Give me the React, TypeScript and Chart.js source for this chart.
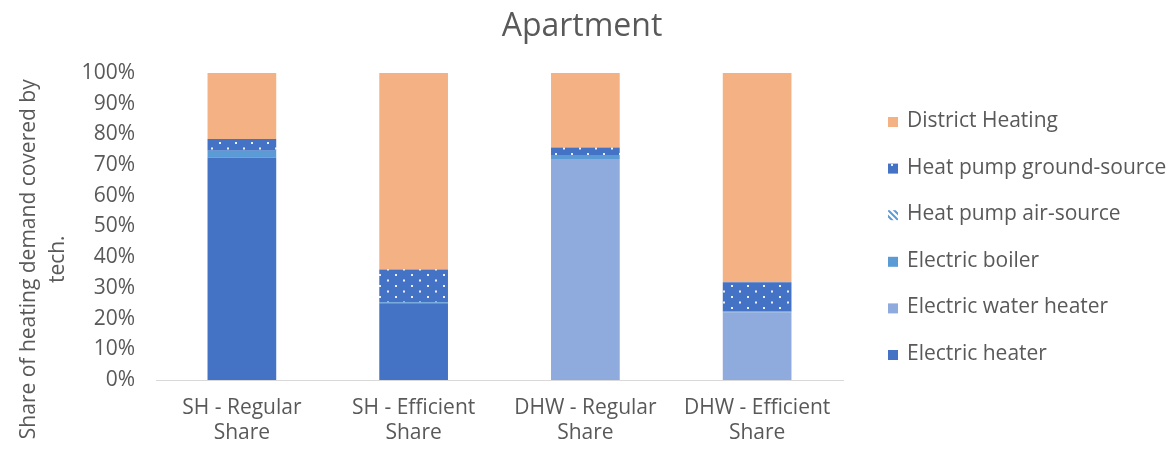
import React, { useEffect, useRef } from "react";
import { Chart, registerables } from "chart.js";

Chart.register(...registerables);

const categories: string[][] = [
  ["SH - Regular", "Share"],
  ["SH - Efficient", "Share"],
  ["DHW - Regular", "Share"],
  ["DHW - Efficient", "Share"],
];

const electricHeater = [72.4, 25.0, 0, 0];
const electricWaterHeater = [0, 0, 72.0, 22.0];
const electricBoiler = [2.3, 0.3, 1.3, 0.3];
const heatPumpAir = [0, 0, 0, 0];
const heatPumpGround = [3.8, 10.7, 2.4, 9.5];
const districtHeating = [21.5, 64.0, 24.3, 68.2];

const yTicks = [0, 10, 20, 30, 40, 50, 60, 70, 80, 90, 100];

const FONT = "'Open Sans', sans-serif";
const GREY = "#595959";

function dotPattern(): CanvasPattern | string {
  const c = document.createElement("canvas");
  c.width = 16;
  c.height = 11;
  const ctx = c.getContext("2d");
  if (!ctx) return "#4472C4";
  ctx.fillStyle = "#4472C4";
  ctx.fillRect(0, 0, 16, 11);
  ctx.fillStyle = "rgba(255,255,255,0.9)";
  ctx.fillRect(3, 2, 2, 2);
  ctx.fillRect(11, 7.5, 2, 2);
  const p = ctx.createPattern(c, "repeat");
  return p || "#4472C4";
}

function stripePattern(): CanvasPattern | string {
  const c = document.createElement("canvas");
  c.width = 6;
  c.height = 6;
  const ctx = c.getContext("2d");
  if (!ctx) return "#5B9BD5";
  ctx.fillStyle = "#ffffff";
  ctx.fillRect(0, 0, 6, 6);
  ctx.strokeStyle = "#5B9BD5";
  ctx.lineWidth = 2;
  ctx.beginPath();
  ctx.moveTo(0, 0);
  ctx.lineTo(6, 6);
  ctx.moveTo(-3, 3);
  ctx.lineTo(3, 9);
  ctx.moveTo(3, -3);
  ctx.lineTo(9, 3);
  ctx.stroke();
  const p = ctx.createPattern(c, "repeat");
  return p || "#5B9BD5";
}

const sideLegend = {
  id: "sideLegend",
  afterDraw(chart: any) {
    const ctx = chart.ctx as CanvasRenderingContext2D;
    const items = [...chart.data.datasets].reverse();
    const x0 = 880;
    const y0 = 113;
    const step = 46.6;
    ctx.save();
    ctx.font = `21px ${FONT}`;
    ctx.textBaseline = "middle";
    ctx.textAlign = "left";
    items.forEach((d: any, i: number) => {
      const y = y0 + i * step;
      ctx.fillStyle = d.backgroundColor;
      ctx.fillRect(x0, y - 4, 10, 10);
      ctx.fillStyle = GREY;
      ctx.fillText(d.label, x0 + 19, y);
    });
    ctx.restore();
  },
};

export default function App() {
  const ref = useRef<HTMLCanvasElement | null>(null);

  useEffect(() => {
    if (!ref.current) return;
    const ds = (label: string, data: number[], bg: any) => ({
      label,
      data,
      backgroundColor: bg,
      borderWidth: 0,
      barPercentage: 0.4,
      categoryPercentage: 1.0,
      yAxisID: "y",
    });
    const pad = "            ";
    const chart = new Chart(ref.current, {
      type: "bar",
      data: {
        labels: categories,
        datasets: [
          ds("Electric heater", electricHeater, "#4472C4"),
          ds("Electric water heater", electricWaterHeater, "#8FAADC"),
          ds("Electric boiler", electricBoiler, "#5B9BD5"),
          ds("Heat pump air-source", heatPumpAir, stripePattern()),
          ds("Heat pump ground-source", heatPumpGround, dotPattern()),
          ds("District Heating", districtHeating, "#F4B183"),
        ],
      },
      options: {
        animation: false,
        responsive: true,
        maintainAspectRatio: false,
        layout: { padding: { left: 0, right: 12, top: 0, bottom: 0 } },
        plugins: {
          title: {
            display: true,
            text: "Apartment",
            color: GREY,
            font: { family: FONT, size: 32, weight: "normal" },
            padding: { top: 0, bottom: 26.6 },
          },
          legend: { display: false },
          tooltip: { enabled: false },
        },
        scales: {
          x: {
            stacked: true,
            grid: { display: false, drawTicks: false },
            border: { display: true, color: "#D9D9D9", width: 1 },
            afterFit: (axis: any) => {
              axis.height = 69;
            },
            ticks: {
              color: GREY,
              font: { family: FONT, size: 21 },
              padding: 15,
              maxRotation: 0,
              autoSkip: false,
            },
          },
          y: {
            stacked: true,
            min: 0,
            max: 100,
            afterBuildTicks: (axis: any) => {
              axis.ticks = yTicks.map((v) => ({ value: v }));
            },
            afterFit: (axis: any) => {
              axis.width = 148;
            },
            grid: { display: false, drawTicks: false },
            border: { display: false },
            ticks: {
              color: GREY,
              font: { family: FONT, size: 21 },
              padding: 21,
              callback: (v: any) => v + "%",
            },
            title: {
              display: true,
              text: ["Share of heating demand covered by" + pad, "tech." + pad],
              color: GREY,
              font: { family: FONT, size: 21, lineHeight: 1.35 },
              padding: { top: 7.3, bottom: 0 },
            },
          },
          legendSpace: {
            position: "right",
            display: true,
            min: 0,
            max: 1,
            grid: { display: false, drawTicks: false },
            border: { display: false },
            ticks: { display: false },
            afterFit: (axis: any) => {
              axis.width = 313;
            },
          },
        },
      },
      plugins: [sideLegend],
    });
    return () => chart.destroy();
  }, []);

  return (
    <div style={{ width: 1160, height: 441, position: "relative" }}>
      <canvas ref={ref} />
    </div>
  );
}
